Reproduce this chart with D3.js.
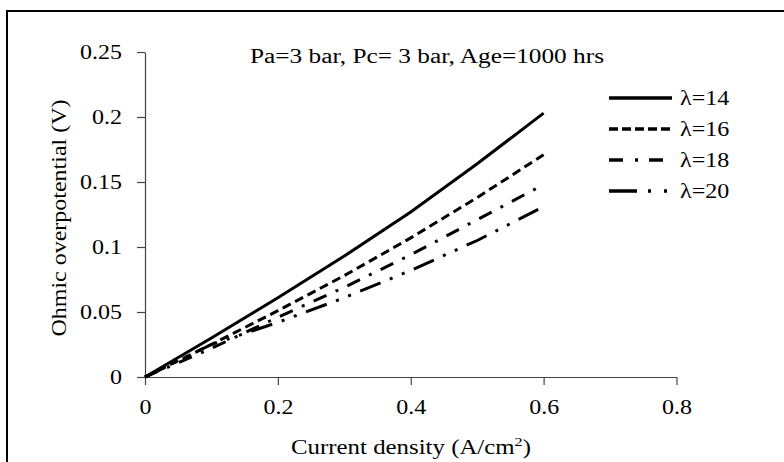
<!DOCTYPE html>
<html lang="en">
<head>
    <meta charset="UTF-8">
    <title>Ohmic overpotential</title>
    <script type="text/javascript" src="https://d3js.org/d3.v7.min.js"></script>
    <style>
      body { margin: 0; background: #fff; }
    </style>
    <script type="text/javascript">
      // data
      var currentDensity = [0, 0.1, 0.2, 0.3, 0.4, 0.5, 0.6];
      var lambda14 = [0, 0.030, 0.061, 0.093, 0.127, 0.164, 0.203];
      var lambda16 = [0, 0.025, 0.051, 0.078, 0.107, 0.138, 0.171];
      var lambda18 = [0, 0.022, 0.046, 0.069, 0.094, 0.121, 0.148];
      var lambda20 = [0, 0.025, 0.042, 0.061, 0.082, 0.105, 0.131];
      var seriesNames = ["\u03bb=14", "\u03bb=16", "\u03bb=18", "\u03bb=20"];
      var xTicks = [0, 0.2, 0.4, 0.6, 0.8];
      var xTickLabels = ["0", "0.2", "0.4", "0.6", "0.8"];
      var yTicks = [0, 0.05, 0.1, 0.15, 0.2, 0.25];
      var yTickLabels = ["0", "0.05", "0.1", "0.15", "0.2", "0.25"];

      var serif = "'Liberation Serif', 'DejaVu Serif', serif";

      function chart() {
        var width = 784, height = 462;
        var stretch = 1.2; // the picture's text is wide

        var svg = d3.select("body").append("svg")
            .attr("width", width)
            .attr("height", height)
            .style("font-family", serif);

        // outer frame (runs off the right and bottom of the picture)
        svg.append("rect")
           .attr("x", 7).attr("y", 11)
           .attr("width", 820).attr("height", 500)
           .attr("fill", "none")
           .attr("stroke", "#000")
           .attr("stroke-width", 2);

        var x = d3.scaleLinear().domain([0, 0.8]).range([145, 676.5]);
        var y = d3.scaleLinear().domain([0, 0.25]).range([377, 52]);

        // axes
        var xAxis = d3.axisBottom(x).tickValues(xTicks)
            .tickFormat(function (d, i) { return xTickLabels[i]; })
            .tickSizeInner(8).tickSizeOuter(0).tickPadding(15);
        var yAxis = d3.axisLeft(y).tickValues(yTicks)
            .tickFormat(function (d, i) { return yTickLabels[i]; })
            .tickSizeInner(8).tickSizeOuter(0).tickPadding(15);

        var gx = svg.append("g").attr("transform", "translate(0,377)").call(xAxis);
        var gy = svg.append("g").attr("transform", "translate(145,0)").call(yAxis);
        [gx, gy].forEach(function (g) {
          g.attr("font-family", serif).attr("font-size", 20);
          g.select(".domain").attr("stroke", "#444").attr("stroke-width", 1.2);
          g.selectAll(".tick line").attr("stroke", "#444").attr("stroke-width", 1.2);
          g.selectAll(".tick text").attr("fill", "#000").style("font-family", serif);
        });

        // series lines
        var series = [lambda14, lambda16, lambda18, lambda20];
        var dashes = [null, "9,5", "14,10,3,10", "22,10,3,10,3,10"];
        var line = d3.line()
            .x(function (d, i) { return x(currentDensity[i]); })
            .y(function (d) { return y(d); });

        svg.append("g").selectAll("path")
           .data(series)
           .enter().append("path")
           .attr("d", line)
           .attr("fill", "none")
           .attr("stroke", "#000")
           .attr("stroke-width", 3)
           .attr("stroke-dasharray", function (d, i) { return dashes[i]; });

        // legend
        var legendDashes = [null, "9,4", "14,12,3,11", "28,11,3,13,3,5"];
        var legend = svg.append("g").attr("class", "legend").selectAll("g")
           .data(seriesNames)
           .enter().append("g")
           .attr("transform", function (d, i) { return "translate(609," + (98 + i * 31) + ")"; });
        legend.append("line")
           .attr("x1", 0).attr("x2", 63).attr("y1", 0).attr("y2", 0)
           .attr("stroke", "#000").attr("stroke-width", 3.5)
           .attr("stroke-dasharray", function (d, i) { return legendDashes[i]; });
        legend.append("text")
           .attr("x", 71).attr("y", 7)
           .attr("font-size", 20)
           .style("font-family", serif)
           .text(function (d) { return d; });

        // titles
        svg.append("text")
           .attr("x", 427).attr("y", 63)
           .attr("text-anchor", "middle")
           .attr("font-size", 20)
           .style("font-family", serif)
           .attr("textLength", 354).attr("lengthAdjust", "spacingAndGlyphs")
           .text("Pa=3 bar, Pc= 3 bar, Age=1000 hrs");

        var xl = svg.append("text")
           .attr("x", 411).attr("y", 454)
           .attr("text-anchor", "middle")
           .attr("font-size", 20)
           .style("font-family", serif)
           .attr("textLength", 240).attr("lengthAdjust", "spacingAndGlyphs");
        xl.append("tspan").text("Current density (A/cm");
        xl.append("tspan").attr("font-size", 13).attr("dy", -8).text("2");
        xl.append("tspan").attr("dy", 8).text(")");

        svg.append("text")
           .attr("transform", "translate(66,218) rotate(-90)")
           .attr("text-anchor", "middle")
           .attr("font-size", 21)
           .style("font-family", serif)
           .attr("textLength", 237).attr("lengthAdjust", "spacingAndGlyphs")
           .text("Ohmic overpotential (V)");

        // widen tick and legend text like the picture
        svg.selectAll(".tick text, .legend text").each(function () {
          var w = this.getComputedTextLength();
          d3.select(this).attr("textLength", w * stretch).attr("lengthAdjust", "spacingAndGlyphs");
        });
      }
    </script>
</head>
<body onload="chart()">
</body>
</html>
